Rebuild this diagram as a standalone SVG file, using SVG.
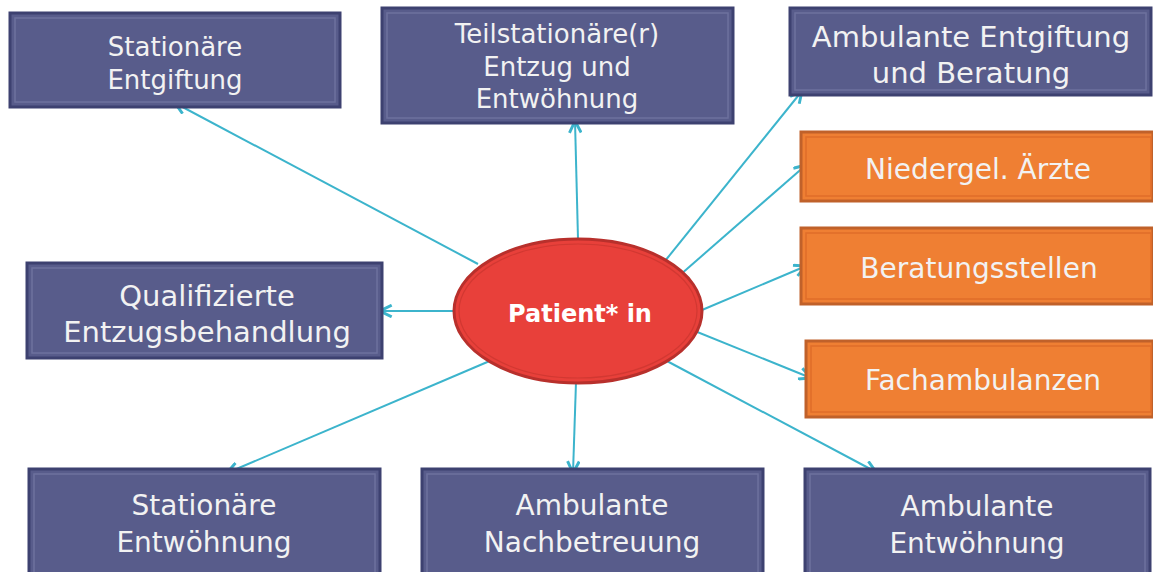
<svg xmlns="http://www.w3.org/2000/svg" width="1153" height="572" viewBox="0 0 1153 572">
<style>
.box{fill:#585c8b;stroke:#3d4170;stroke-width:3}
.inb{fill:none;stroke:#6d719e;stroke-width:1.5}
.obox{fill:#ef7f33;stroke:#c0612a;stroke-width:3}
.inob{fill:none;stroke:#e06d2a;stroke-width:1.5}
.t{font-family:"DejaVu Sans","Liberation Sans",sans-serif;fill:#f2f2f2;text-anchor:middle}
.c{stroke:#3cb4cc;stroke-width:2;fill:none;marker-end:url(#ah)}
</style>
<defs>
<marker id="ah" markerUnits="userSpaceOnUse" viewBox="0 0 12 12" refX="11" refY="6" markerWidth="14" markerHeight="14" orient="auto">
<path d="M1,1 L11,6 L1,11" fill="none" stroke="#3cb4cc" stroke-width="2.5"/>
</marker>
</defs>
<rect width="1153" height="572" fill="#ffffff"/>
<g id="connectors">
<line class="c" x1="478" y1="264" x2="175" y2="103"/>
<line class="c" x1="578" y1="239" x2="575" y2="121"/>
<line class="c" x1="665" y1="261" x2="802" y2="91"/>
<line class="c" x1="680" y1="275" x2="806" y2="165"/>
<line class="c" x1="702" y1="310" x2="806" y2="266"/>
<line class="c" x1="680" y1="325" x2="811" y2="378"/>
<line class="c" x1="665" y1="360" x2="876" y2="472"/>
<line class="c" x1="576" y1="382" x2="573" y2="473"/>
<line class="c" x1="492" y1="360" x2="227" y2="473"/>
<line class="c" x1="455" y1="311" x2="380" y2="311"/>
</g>
<g id="n1">
<rect class="box" x="10" y="13" width="330" height="94"/>
<rect class="inb" x="15" y="18" width="320" height="84"/>
<text class="t" x="175" y="56" font-size="26">Stationäre</text>
<text class="t" x="175" y="89" font-size="26">Entgiftung</text>
</g>
<g id="n2">
<rect class="box" x="382" y="8" width="351" height="115"/>
<rect class="inb" x="387" y="13" width="341" height="105"/>
<text class="t" x="557" y="43" font-size="26">Teilstationäre(r)</text>
<text class="t" x="557" y="76" font-size="26">Entzug und</text>
<text class="t" x="557" y="108" font-size="26">Entwöhnung</text>
</g>
<g id="n3">
<rect class="box" x="790" y="8" width="361" height="87"/>
<rect class="inb" x="795" y="13" width="351" height="77"/>
<text class="t" x="971" y="47" font-size="29">Ambulante Entgiftung</text>
<text class="t" x="971" y="83" font-size="29">und Beratung</text>
</g>
<g id="n4">
<rect class="obox" x="801" y="132" width="352" height="69"/>
<rect class="inob" x="806" y="137" width="345" height="59"/>
<text class="t" x="978" y="179" font-size="28">Niedergel. Ärzte</text>
</g>
<g id="n5">
<rect class="obox" x="801" y="228" width="352" height="76"/>
<rect class="inob" x="806" y="233" width="345" height="66"/>
<text class="t" x="979" y="278" font-size="28">Beratungsstellen</text>
</g>
<g id="n6">
<rect class="obox" x="806" y="341" width="347" height="76"/>
<rect class="inob" x="811" y="346" width="340" height="66"/>
<text class="t" x="983" y="390" font-size="28">Fachambulanzen</text>
</g>
<g id="n7">
<rect class="box" x="27" y="263" width="355" height="95"/>
<rect class="inb" x="32" y="268" width="345" height="85"/>
<text class="t" x="207" y="306" font-size="29">Qualifizierte</text>
<text class="t" x="207" y="342" font-size="29">Entzugsbehandlung</text>
</g>
<g id="n8">
<rect class="box" x="29" y="469" width="351" height="110"/>
<rect class="inb" x="34" y="474" width="341" height="100"/>
<text class="t" x="204" y="515" font-size="28">Stationäre</text>
<text class="t" x="204" y="552" font-size="28">Entwöhnung</text>
</g>
<g id="n9">
<rect class="box" x="422" y="469" width="341" height="110"/>
<rect class="inb" x="427" y="474" width="331" height="100"/>
<text class="t" x="592" y="515" font-size="28">Ambulante</text>
<text class="t" x="592" y="552" font-size="28">Nachbetreuung</text>
</g>
<g id="n10">
<rect class="box" x="805" y="469" width="345" height="110"/>
<rect class="inb" x="810" y="474" width="335" height="100"/>
<text class="t" x="977" y="516" font-size="28">Ambulante</text>
<text class="t" x="977" y="553" font-size="28">Entwöhnung</text>
</g>
<g id="center">
<ellipse cx="578" cy="311" rx="124" ry="72" fill="#e8403a" stroke="#b8302c" stroke-width="3"/>
<ellipse cx="578" cy="311" rx="119" ry="67" fill="none" stroke="#d23832" stroke-width="1.2"/>
<text x="580" y="322" font-family="'DejaVu Sans','Liberation Sans',sans-serif" font-weight="bold" font-size="24" fill="#ffffff" text-anchor="middle">Patient* in</text>
</g>
</svg>
